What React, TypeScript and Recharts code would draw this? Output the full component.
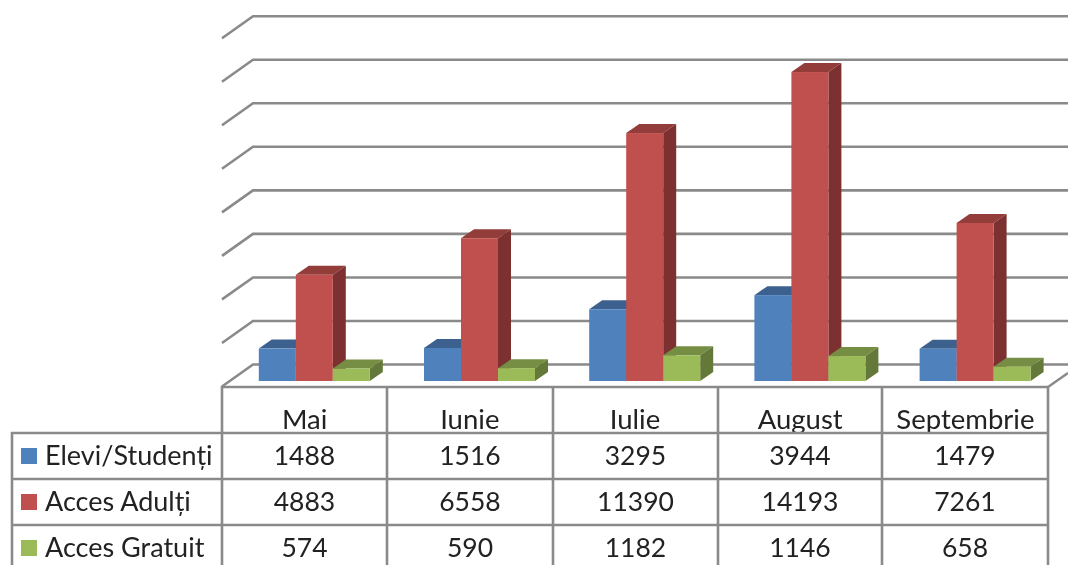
import { Bar, BarChart, CartesianGrid, XAxis, YAxis } from "recharts";

const MONTHS = ["Mai", "Iunie", "Iulie", "August", "Septembrie"];
const ELEVI = [1488, 1516, 3295, 3944, 1479];
const ADULTI = [4883, 6558, 11390, 14193, 7261];
const GRATUIT = [574, 590, 1182, 1146, 658];
const GRID_TICKS = [0, 2000, 4000, 6000, 8000, 10000, 12000, 14000, 16000];

const SERIES = [
  { name: "Elevi/Studenți", key: "elevi", values: ELEVI, front: "#4f81bd", top: "#3c618f", side: "#33527a" },
  { name: "Acces Adulți", key: "adulti", values: ADULTI, front: "#c0504d", top: "#923d3a", side: "#7c3130" },
  { name: "Acces Gratuit", key: "gratuit", values: GRATUIT, front: "#9bbb59", top: "#758e44", side: "#637839" },
];

const data = MONTHS.map((month, i) => ({
  month,
  elevi: ELEVI[i],
  adulti: ADULTI[i],
  gratuit: GRATUIT[i],
}));

const LINE = "#8a8a8a";
const TEXT = "#222222";
const FONT = "Lato, sans-serif";
const DEPTH_X = 13;
const DEPTH_Y = 9;

// table layout
const COL_X = [222, 387, 553, 718, 882, 1048];
const ROW_Y = [433, 479, 525];

// bar with a top and a side face, like an Excel 3D column
function Box3D(props: any) {
  const { x, y, width: w, height: h, front, top, side } = props;
  return (
    <g>
      <polygon points={`${x},${y} ${x + DEPTH_X},${y - DEPTH_Y} ${x + w + DEPTH_X},${y - DEPTH_Y} ${x + w},${y}`} fill={top} />
      <polygon points={`${x + w},${y} ${x + w + DEPTH_X},${y - DEPTH_Y} ${x + w + DEPTH_X},${y + h - DEPTH_Y} ${x + w},${y + h}`} fill={side} />
      <rect x={x} y={y} width={w} height={h} fill={front} />
    </g>
  );
}

// wall + side wall line for one gridline value
function WallLine(props: any) {
  const y = props.y1;
  return (
    <polyline
      key={props.key}
      points={`222,${y + 5.5} 253,${y - 16.5} 1068,${y - 16.5}`}
      fill="none"
      stroke={LINE}
      strokeWidth={2.6}
    />
  );
}

function DataTable() {
  return (
    <svg width={1068} height={565} style={{ position: "absolute", left: 0, top: 0 }}>
      <line x1={1048} y1={387} x2={1068} y2={373} stroke={LINE} strokeWidth={2.4} />
      <line x1={222} y1={387} x2={1048} y2={387} stroke={LINE} strokeWidth={2.6} />
      {COL_X.map((cx) => (
        <line key={cx} x1={cx} y1={386} x2={cx} y2={565} stroke={LINE} strokeWidth={2.6} />
      ))}
      <line x1={12} y1={432} x2={12} y2={565} stroke={LINE} strokeWidth={2.6} />
      {ROW_Y.map((ry) => (
        <line key={ry} x1={11} y1={ry} x2={1049} y2={ry} stroke={LINE} strokeWidth={2.6} />
      ))}
      {SERIES.map((s, r) => (
        <g key={s.key}>
          <rect x={21} y={ROW_Y[r] + 15} width={16} height={16} fill={s.front} />
          <text x={45} y={ROW_Y[r] + 32} fontFamily={FONT} fontSize={27} fill={TEXT}>
            {s.name}
          </text>
          {s.values.map((v, c) => (
            <text
              key={c}
              x={(COL_X[c] + COL_X[c + 1]) / 2}
              y={ROW_Y[r] + 32}
              textAnchor="middle"
              fontFamily={FONT}
              fontSize={26.5}
              fill={TEXT}
            >
              {v}
            </text>
          ))}
        </g>
      ))}
    </svg>
  );
}

export default function App() {
  return (
    <div style={{ position: "absolute", left: 0, top: 0, width: 1068, height: 565, overflow: "hidden", background: "#fff", filter: "blur(0.5px)" }}>
      <BarChart
        width={1068}
        height={565}
        data={data}
        margin={{ top: 32.7, right: 10.5, bottom: 0, left: 231.5 }}
        barGap={0}
        barCategoryGap={27.3}
      >
        <CartesianGrid vertical={false} horizontal={WallLine} horizontalValues={GRID_TICKS} />
        <XAxis
          dataKey="month"
          height={184}
          axisLine={false}
          tickLine={false}
          interval={0}
          tickMargin={22}
          tick={{ fontSize: 27.5, fontFamily: FONT, fill: TEXT, dx: -9.5 }}
        />
        <YAxis hide domain={[0, 16000]} ticks={GRID_TICKS} width={0} />
        {SERIES.map((s) => (
          <Bar
            key={s.key}
            dataKey={s.key}
            name={s.name}
            isAnimationActive={false}
            shape={(p: any) => <Box3D {...p} front={s.front} top={s.top} side={s.side} />}
          />
        ))}
      </BarChart>
      <DataTable />
    </div>
  );
}
